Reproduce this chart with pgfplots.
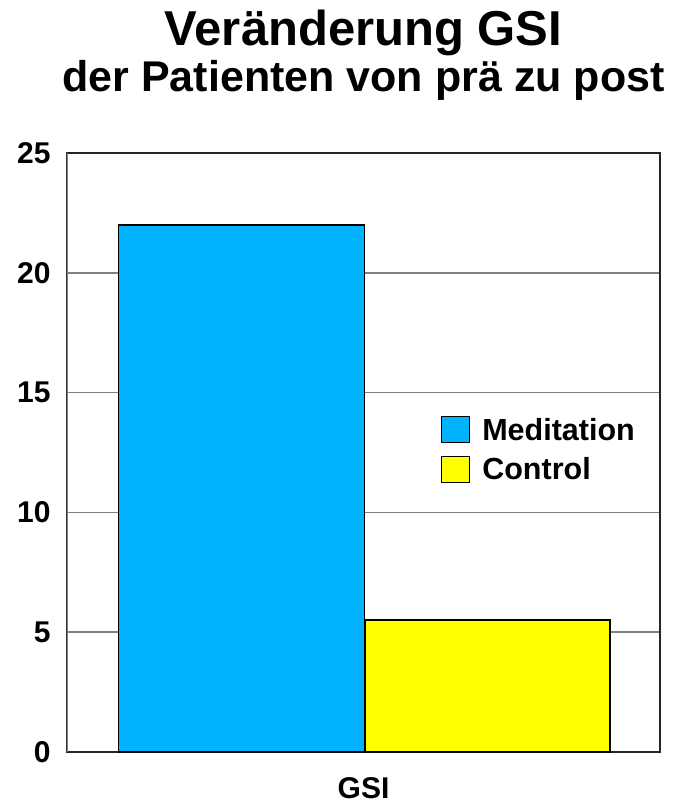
\documentclass[border=0pt]{standalone}
\usepackage{pgfplots}
\pgfplotsset{compat=1.18}
\usetikzlibrary{calc}
\usepackage{fontspec}
\setmainfont{Liberation Sans}
\definecolor{medblue}{RGB}{0,178,255}
\definecolor{ctrlyellow}{RGB}{255,255,0}
\begin{document}
\begin{tikzpicture}
\begin{axis}[
  scale only axis, width=593pt, height=599pt,
  xmin=67, xmax=660, ymin=0, ymax=25,
  ytick={0,5,10,15,20,25},
  xtick={363.5}, xticklabels={GSI},
  major tick length=0pt,
  ymajorgrids, grid style={black!50, line width=1.5pt},
  axis line style={black!85, line width=1.6pt},
  /pgf/number format/assume math mode=true,
  tick label style={font=\fontsize{30}{30}\selectfont\bfseries},
  yticklabel style={xshift=-13pt},
  xticklabel style={yshift=-22pt},
  title style={at={(0.5,1)}, anchor=south, yshift=46pt, inner sep=0pt, align=center},
  title={\fontsize{49}{50}\selectfont\bfseries Veränderung GSI\\[4pt]\fontsize{43}{44}\selectfont\bfseries der Patienten von prä zu post},
  legend style={at={(0.625,0.505)}, anchor=west, draw=none, fill=none,
    font=\fontsize{30.5}{31}\selectfont\bfseries, row sep=12pt,
    legend cell align=left,
    nodes={inner xsep=12pt}},
]
\addplot[ybar, bar width=246, bar shift=0pt, fill=medblue, draw=black, line width=1.6pt,
  legend image code/.code={\draw[fill=medblue, draw=black, line width=1.5pt] (0pt,-13pt) rectangle (28pt,13pt);}]
  coordinates {(241.5,22)};
\addlegendentry{Meditation}
\addplot[ybar, bar width=245, bar shift=0pt, fill=ctrlyellow, draw=black, line width=1.6pt,
  legend image code/.code={\draw[fill=ctrlyellow, draw=black, line width=1.5pt] (0pt,-13pt) rectangle (28pt,13pt);}]
  coordinates {(487.5,5.5)};
\addlegendentry{Control}
\draw[gray, line width=1.6pt] (rel axis cs:0,0) -- (rel axis cs:0,1);
\end{axis}
\path ($(current axis.south west)+(-67pt,-52pt)$) rectangle ($(current axis.north east)+(13pt,153pt)$);
\end{tikzpicture}
\end{document}
